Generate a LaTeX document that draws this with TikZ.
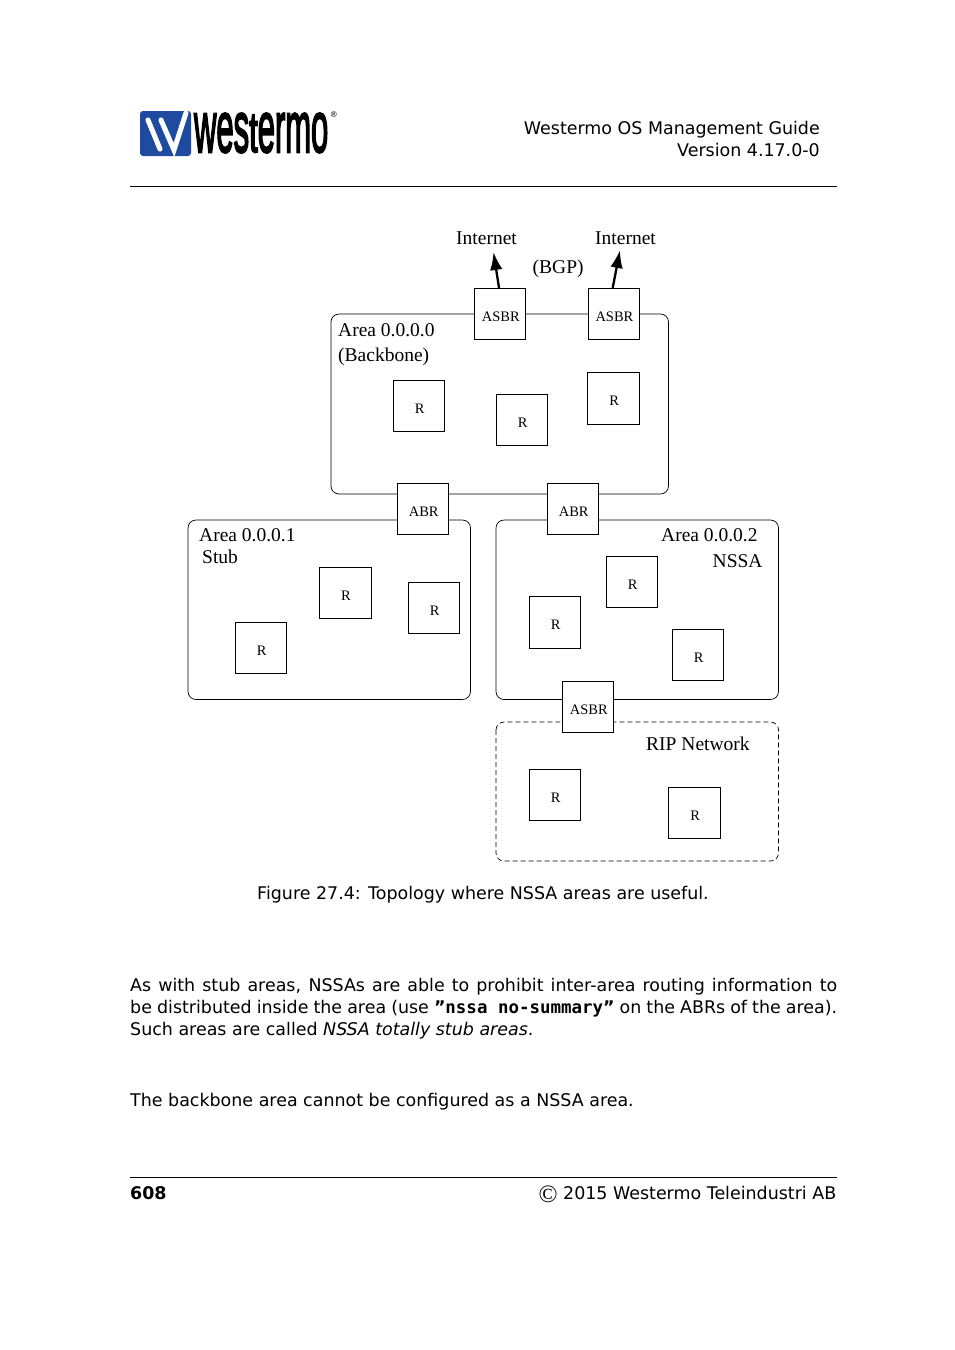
\documentclass[tikz,border=0pt]{standalone}
\usepackage{fontspec}
\setmainfont{DejaVu Sans}
\setmonofont{DejaVu Sans Mono}
\newfontfamily\figfont{Liberation Serif}
\newfontfamily\logofont[FakeBold=3.5]{Liberation Sans}
\definecolor{logoblue}{RGB}{30,75,160}
\usetikzlibrary{arrows.meta}
\tikzset{
    areabox/.style={draw, line width=0.7pt, rounded corners=8pt},
    ripbox/.style={areabox, dash pattern=on 5pt off 3pt},
    routerbox/.style={draw, fill=white, line width=0.7pt, minimum size=51.5pt, inner sep=0pt,
        text height=14.5pt, text depth=0pt, execute at begin node={\hspace*{1.5pt}},
        font=\figfont\fontsize{14.5}{16}\selectfont},
    arealabel/.style={anchor=base west, inner sep=0pt, font=\figfont\fontsize{19.5}{22}\selectfont},
    pagetext/.style={anchor=base west, inner sep=0pt, font=\fontsize{17.45}{22}\selectfont},
    uplink/.style={line width=2.3pt, -{Latex[length=18pt,width=12.5pt]}},
}
\begin{document}
\begin{tikzpicture}[x=1pt,y=-1pt]
        \useasboundingbox (0,0) rectangle (954,1350);
        % logo
        \draw[fill=logoblue, draw=none, rounded corners=3pt] (140,111) rectangle (191,156);
        \draw[white, line width=5pt, line cap=round] (148,120) -- (160,149);
        \draw[white, line width=5pt, line cap=round] (161,120) -- (174,150) -- (186,113);
        \draw (194,152) node[anchor=base west, inner sep=0pt, xscale=0.43](logotext){\logofont\fontsize{72}{72}\selectfont wes\scalebox{1}[0.8]{t}ermo};
        \draw (333.8,115) node[inner sep=0pt, font=\fontsize{8}{8}\selectfont](logomark){\textregistered};
        % page head
        \draw (820,134) node[pagetext, anchor=base east](guide){Westermo OS Management Guide};
        \draw (820,156) node[pagetext, anchor=base east](version){Version 4.17.0-0};
        \draw[line width=0.7pt] (130,186.5) -- (837,186.5);
        % areas
        \draw[areabox] (331,314) rectangle (668.5,494);
        \draw[areabox] (188,520) rectangle (470.5,699.5);
        \draw[areabox] (496,520) rectangle (778.5,699.5);
        \draw[ripbox] (496,722) rectangle (778.5,861);
        % routers
        \draw (500,314) node[routerbox](asbrl){ASBR};
        \draw (613.7,314) node[routerbox](asbrr){ASBR};
        \draw (419,406) node[routerbox](bbl){R};
        \draw (522,420) node[routerbox](bbm){R};
        \draw (613.5,398.5) node[routerbox](bbr){R};
        \draw (423,509) node[routerbox](abrl){ABR};
        \draw (573,509) node[routerbox](abrr){ABR};
        \draw (345.3,593) node[routerbox](stm){R};
        \draw (434,608) node[routerbox](str){R};
        \draw (261,648) node[routerbox](stl){R};
        \draw (632,582) node[routerbox](nsm){R};
        \draw (555,622.5) node[routerbox](nsl){R};
        \draw (698,655) node[routerbox](nsr){R};
        \draw (588,707) node[routerbox](asbrn){ASBR};
        \draw (555,795) node[routerbox](ripl){R};
        \draw (694.5,813) node[routerbox](ripr){R};
        % labels
        \draw (456,244) node[arealabel](inetl){Internet};
        \draw (595,244) node[arealabel](inetr){Internet};
        \draw (532.5,273) node[arealabel](bgp){(BGP)};
        \draw (338,336) node[arealabel](bbname){Area 0.0.0.0};
        \draw (338,361) node[arealabel](bbtype){(Backbone)};
        \draw (199,541) node[arealabel](stname){Area 0.0.0.1};
        \draw (202,563.5) node[arealabel](sttype){Stub};
        \draw (661,541) node[arealabel](nsname){Area 0.0.0.2};
        \draw (712.5,567) node[arealabel](nstype){NSSA};
        \draw (646,750) node[arealabel](ripname){RIP Network};
        % uplinks
        \coordinate (tipl) at (493.5,252);
        \coordinate (tipr) at (620,250);
        \draw[uplink] (asbrl.north) ++(-1,0) coordinate (footl) -- (tipl);
        \draw[uplink] (asbrr.north) ++(-1,0) coordinate (footr) -- (tipr);
        % page text
        \draw (483,899) node[pagetext, anchor=base](caption){Figure 27.4: Topology where NSSA areas are useful.};
        \draw (130,991) node[pagetext, text width=707pt, align=justify, anchor=base west](para){As with stub areas, NSSAs are able to prohibit inter-area routing information to be distributed inside the area (use {\bfseries ”\ttfamily nssa no-summary\rmfamily ”} on the ABRs of the area). Such areas are called \textit{NSSA totally stub areas}.};
        \draw (130,1106) node[pagetext](backbone){The backbone area cannot be configured as a NSSA area.};
        % page foot
        \draw[line width=0.7pt] (130,1177.5) -- (837,1177.5);
        \draw (130,1199) node[pagetext](pageno){\bfseries 608};
        \draw (836.5,1199) node[pagetext, anchor=base east](copy){\raisebox{-3pt}{\figfont\fontsize{25}{22}\selectfont\textcopyright} 2015 Westermo Teleindustri AB};
    \end{tikzpicture}
\end{document}
